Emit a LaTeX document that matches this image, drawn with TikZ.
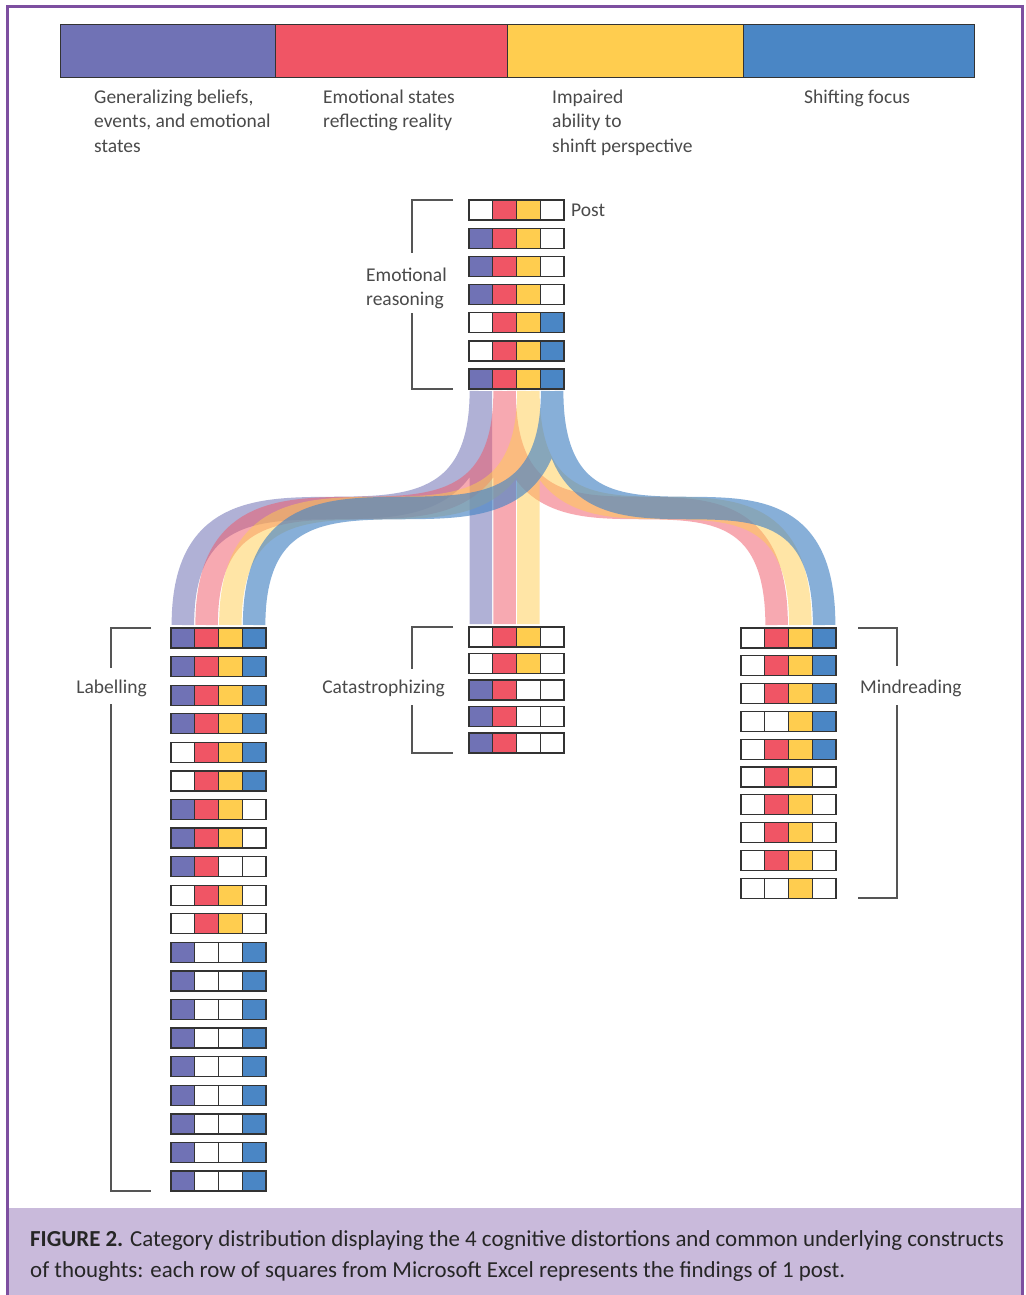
\documentclass[tikz,border=0pt]{standalone}
\usepackage{fontspec}
\setmainfont{Carlito}
\usetikzlibrary{calc}
\definecolor{cP}{HTML}{7072B5}
\definecolor{cR}{HTML}{F05565}
\definecolor{cY}{HTML}{FFCD4F}
\definecolor{cB}{HTML}{4A86C5}
\definecolor{framec}{HTML}{7D4FA0}
\definecolor{capbg}{HTML}{C9BADB}
\definecolor{txt}{HTML}{4A4A4A}
\definecolor{cellline}{HTML}{333333}
\definecolor{brkc}{HTML}{555555}
\newcommand\gridrow[4]{%
  \foreach \cc [count=\ii from 0] in #4 {%
    \node[cellbox, fill=\cc] (#1-\ii) at ({#2+\ii*23.75},{#3}) {};
  }}
\newcommand\tline[5][lbl]{\node[#1, anchor=base west] (#2) at (#3,#4) {#5};}
\begin{document}
\begin{tikzpicture}[x=1pt, y=-1pt,
  cellbox/.style={draw=cellline, line width=1.3, minimum width=23.75, minimum height=20, inner sep=0, outer sep=0, anchor=north west},
  barseg/.style={draw=cellline, line width=1, minimum height=53, inner sep=0, outer sep=0, anchor=north west},
  lbl/.style={text=txt, inner sep=0, font=\fontsize{19.5}{24}\selectfont},
  capstyle/.style={text=black!85, inner sep=0, font=\fontsize{22.9}{30}\selectfont},
  brk/.style={draw=brkc, line width=1.5},
  band/.style={line width=22.5}]
\useasboundingbox (0,0) rectangle (1025,1295);
\fill[white] (0,0) rectangle (1025,1295);
\fill[capbg] (7,1208) rectangle (1022,1295);
\draw[framec, line width=3] (7,1295) -- (7,7) -- (1022,7) -- (1022,1295);
% legend bar
\node[barseg, fill=cP, minimum width=215] (segP) at (60,25) {};
\node[barseg, fill=cR, minimum width=232] (segR) at (275,25) {};
\node[barseg, fill=cY, minimum width=236] (segY) at (507,25) {};
\node[barseg, fill=cB, minimum width=231] (segB) at (743,25) {};
\tline{l1a}{94}{104}{Generalizing beliefs,}
\tline{l1b}{94}{128}{events, and emotional}
\tline{l1c}{94}{152}{states}
\tline{l2a}{323}{104}{Emotional states}
\tline{l2b}{323}{128}{reflecting reality}
\tline{l3a}{552}{104}{Impaired}
\tline{l3b}{552}{128}{ability to}
\tline{l3c}{552}{152}{shinft perspective}
\tline{l4a}{804}{104}{Shifting focus}
% grids
\foreach \cols [count=\r] in {{white,cR,cY,white},{cP,cR,cY,white},{cP,cR,cY,white},{cP,cR,cY,white},{white,cR,cY,cB},{white,cR,cY,cB},{cP,cR,cY,cB}}
  {\gridrow{er\r}{469}{200+(\r-1)*28.17}{\cols}}
\foreach \cols [count=\r] in {{cP,cR,cY,cB},{cP,cR,cY,cB},{cP,cR,cY,cB},{cP,cR,cY,cB},{white,cR,cY,cB},{white,cR,cY,cB},{cP,cR,cY,white},{cP,cR,cY,white},{cP,cR,white,white},{white,cR,cY,white},{white,cR,cY,white},{cP,white,white,cB},{cP,white,white,cB},{cP,white,white,cB},{cP,white,white,cB},{cP,white,white,cB},{cP,white,white,cB},{cP,white,white,cB},{cP,white,white,cB},{cP,white,white,cB}}
  {\gridrow{lb\r}{171}{628+(\r-1)*28.58}{\cols}}
\foreach \cols [count=\r] in {{white,cR,cY,white},{white,cR,cY,white},{cP,cR,white,white},{cP,cR,white,white},{cP,cR,white,white}}
  {\gridrow{ca\r}{469}{627+(\r-1)*26.5}{\cols}}
\foreach \cols [count=\r] in {{white,cR,cY,cB},{white,cR,cY,cB},{white,cR,cY,cB},{white,white,cY,cB},{white,cR,cY,cB},{white,cR,cY,white},{white,cR,cY,white},{white,cR,cY,white},{white,cR,cY,white},{white,white,cY,white}}
  {\gridrow{mr\r}{741}{628+(\r-1)*27.8}{\cols}}
% bands
\draw[band, cP, opacity=0.55] ($(er7-0.south)+(0,2)$) .. controls +(0,232) and +(0,-232) .. ($(lb1-0.north)+(0,-3)$)
  ($(er7-0.south)+(0,2)$) -- ($(ca1-0.north)+(0,-3)$);
\draw[band, cR, opacity=0.5] ($(er7-1.south)+(0,2)$) .. controls +(0,232) and +(0,-232) .. ($(lb1-1.north)+(0,-3)$)
  ($(er7-1.south)+(0,2)$) -- ($(ca1-1.north)+(0,-3)$)
  ($(er7-1.south)+(0,2)$) .. controls +(0,232) and +(0,-232) .. ($(mr1-1.north)+(0,-3)$);
\draw[band, cY, opacity=0.5] ($(er7-2.south)+(0,2)$) .. controls +(0,232) and +(0,-232) .. ($(lb1-2.north)+(0,-3)$)
  ($(er7-2.south)+(0,2)$) -- ($(ca1-2.north)+(0,-3)$)
  ($(er7-2.south)+(0,2)$) .. controls +(0,232) and +(0,-232) .. ($(mr1-2.north)+(0,-3)$);
\draw[band, cB, opacity=0.66] ($(er7-3.south)+(0,2)$) .. controls +(0,232) and +(0,-232) .. ($(lb1-3.north)+(0,-3)$)
  ($(er7-3.south)+(0,2)$) .. controls +(0,232) and +(0,-232) .. ($(mr1-3.north)+(0,-3)$);
% brackets and labels
\draw[brk] (453,200) -- (412,200) -- (412,253);
\draw[brk] (412,313) -- (412,389) -- (453,389);
\tline{post}{571}{216}{Post}
\tline{ema}{366}{281}{Emotional}
\tline{emb}{366}{305}{reasoning}
\draw[brk] (151,628) -- (111,628) -- (111,668);
\draw[brk] (111,704) -- (111,1191) -- (151,1191);
\node[lbl, anchor=base east] (lab) at (147,693) {Labelling};
\draw[brk] (453,627) -- (412,627) -- (412,669);
\draw[brk] (412,705) -- (412,753) -- (453,753);
\node[lbl, anchor=base east] (cat) at (445,693) {Catastrophizing};
\draw[brk] (858,628) -- (897,628) -- (897,666);
\draw[brk] (897,705) -- (897,898) -- (858,898);
\node[lbl, anchor=base west] (mind) at (860,693) {Mindreading};
% caption
\tline[capstyle]{capa}{30}{1246}{\textbf{FIGURE 2.} Category distribution displaying the 4 cognitive distortions and common underlying constructs}
\tline[capstyle]{capb}{30}{1277}{of thoughts: each row of squares from Microsoft Excel represents the findings of 1 post.}
\end{tikzpicture}
\end{document}
